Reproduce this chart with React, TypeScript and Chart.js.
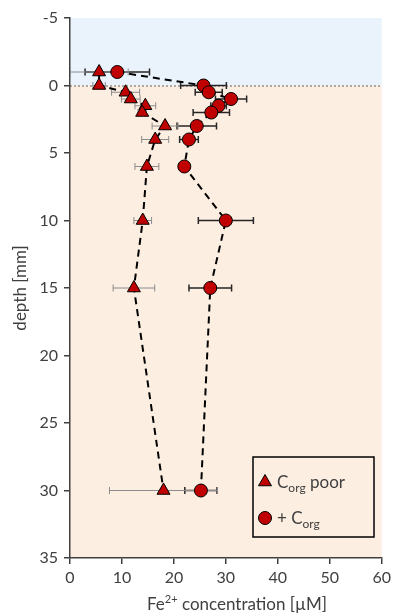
import React, { useEffect, useRef } from "react";
import { Chart, registerables } from "chart.js";

Chart.register(...registerables);

// ---- data ----
const depthPoor = [-1, 0, 0.5, 1, 1.5, 2, 3, 4, 6, 10, 15, 30];
const fePoor = [5.6, 5.6, 10.7, 11.7, 14.5, 13.9, 18.3, 16.4, 14.8, 14.0, 12.3, 18.0];
const errPoor = [5.6, 1.2, 2.7, 1.8, 2.0, 0.8, 2.5, 2.6, 2.3, 1.7, 4.0, 10.4];

const depthCorg = [-1, 0, 0.5, 1, 1.5, 2, 3, 4, 6, 10, 15, 30];
const feCorg = [9.1, 25.7, 26.7, 31.0, 28.6, 27.2, 24.4, 22.9, 22.0, 30.0, 27.0, 25.2];
const errCorg = [6.2, 4.4, 2.6, 3.0, 1.5, 3.5, 3.8, 1.8, 0.4, 5.3, 4.1, 3.1];

const xTicks = [0, 10, 20, 30, 40, 50, 60];
const yTicks = [-5, 0, 5, 10, 15, 20, 25, 30, 35];

const legendItems = [
  { pre: "C", sub: "org", post: " poor", style: "triangle" },
  { pre: "+ C", sub: "org", post: "", style: "circle" },
];
const xTitleParts = { base: "Fe", sup: "2+", rest: " concentration [µM]" };
const yTitle = "depth [mm]";

const FONT = "Lato, 'Open Sans', sans-serif";
const TEXT = "#404040";
const RED = "#c00000";

export default function App() {
  const ref = useRef<HTMLCanvasElement>(null);

  useEffect(() => {
    const canvas = ref.current!;

    const bgPlugin = {
      id: "bg",
      beforeDraw(chart: any) {
        const { ctx, chartArea: a, scales } = chart;
        const y0 = scales.y.getPixelForValue(0);
        ctx.save();
        ctx.fillStyle = "#ffffff";
        ctx.fillRect(0, 0, chart.width, chart.height);
        ctx.fillStyle = "#eaf3fb";
        ctx.fillRect(a.left, a.top, a.right - a.left, y0 - a.top);
        ctx.fillStyle = "#fdeee2";
        ctx.fillRect(a.left, y0, a.right - a.left, a.bottom - y0);
        ctx.setLineDash([2, 2]);
        ctx.strokeStyle = "#606060";
        ctx.lineWidth = 1;
        ctx.beginPath();
        ctx.moveTo(a.left, y0 + 0.5);
        ctx.lineTo(a.right, y0 + 0.5);
        ctx.stroke();
        ctx.restore();
      },
    };

    const errPlugin = {
      id: "errbars",
      beforeDatasetsDraw(chart: any) {
        const { ctx, chartArea: a, scales } = chart;
        const sets = [
          { d: depthCorg, v: feCorg, e: errCorg, c: "#262626", w: 1.5 },
          { d: depthPoor, v: fePoor, e: errPoor, c: "#8c8c8c", w: 1 },
        ];
        ctx.save();
        ctx.beginPath();
        ctx.rect(a.left, a.top, a.right - a.left, a.bottom - a.top);
        ctx.clip();
        sets.forEach((s) => {
          ctx.strokeStyle = s.c;
          ctx.lineWidth = s.w;
          s.d.forEach((dep, i) => {
            const y = scales.y.getPixelForValue(dep);
            const x1 = scales.x.getPixelForValue(s.v[i] - s.e[i]);
            const x2 = scales.x.getPixelForValue(s.v[i] + s.e[i]);
            ctx.beginPath();
            ctx.moveTo(x1, y);
            ctx.lineTo(x2, y);
            ctx.moveTo(x1, y - 3.5);
            ctx.lineTo(x1, y + 3.5);
            ctx.moveTo(x2, y - 3.5);
            ctx.lineTo(x2, y + 3.5);
            ctx.stroke();
          });
        });
        ctx.restore();
      },
    };

    const overlayPlugin = {
      id: "overlay",
      afterDraw(chart: any) {
        const { ctx } = chart;
        ctx.save();
        // legend box
        const bx = 253, by = 457, bw = 121, bh = 80;
        ctx.strokeStyle = "#000";
        ctx.lineWidth = 1.5;
        ctx.strokeRect(bx, by, bw, bh);
        legendItems.forEach((it, i) => {
          const cy = by + 25 + i * 36;
          const cx = bx + 12;
          ctx.fillStyle = RED;
          ctx.strokeStyle = "#000";
          ctx.lineWidth = 1;
          ctx.beginPath();
          if (it.style === "triangle") {
            const r = 7.5;
            ctx.moveTo(cx, cy - r);
            ctx.lineTo(cx + r * 0.866, cy + r * 0.5);
            ctx.lineTo(cx - r * 0.866, cy + r * 0.5);
            ctx.closePath();
          } else {
            ctx.arc(cx, cy, 6.5, 0, Math.PI * 2);
          }
          ctx.fill();
          ctx.stroke();
          ctx.fillStyle = TEXT;
          ctx.textBaseline = "alphabetic";
          ctx.textAlign = "left";
          let tx = bx + 24;
          const base = cy + 6;
          ctx.font = `17px ${FONT}`;
          ctx.fillText(it.pre, tx, base);
          tx += ctx.measureText(it.pre).width;
          ctx.font = `12px ${FONT}`;
          ctx.fillText(it.sub, tx, base + 4);
          tx += ctx.measureText(it.sub).width;
          ctx.font = `17px ${FONT}`;
          ctx.fillText(it.post, tx, base);
        });
        // x title
        ctx.fillStyle = TEXT;
        ctx.font = `17px ${FONT}`;
        const wBase = ctx.measureText(xTitleParts.base).width;
        const wRest = ctx.measureText(xTitleParts.rest).width;
        ctx.font = `11px ${FONT}`;
        const wSup = ctx.measureText(xTitleParts.sup).width;
        const total = wBase + wSup + wRest;
        let x = 237 - total / 2;
        const yb = 610;
        ctx.textAlign = "left";
        ctx.textBaseline = "alphabetic";
        ctx.font = `17px ${FONT}`;
        ctx.fillText(xTitleParts.base, x, yb);
        x += wBase;
        ctx.font = `11px ${FONT}`;
        ctx.fillText(xTitleParts.sup, x, yb - 7);
        x += wSup;
        ctx.font = `17px ${FONT}`;
        ctx.fillText(xTitleParts.rest, x, yb);
        ctx.restore();
      },
    };

    const chart = new Chart(canvas, {
      type: "scatter",
      data: {
        datasets: [
          {
            label: "Corg poor",
            data: fePoor.map((x, i) => ({ x, y: depthPoor[i] })),
            showLine: true,
            borderColor: "#000",
            borderWidth: 2,
            borderDash: [7, 5],
            pointStyle: "triangle",
            pointRadius: 7.5,
            pointBackgroundColor: RED,
            pointBorderColor: "#000",
            pointBorderWidth: 1,
            backgroundColor: RED,
          },
          {
            label: "+ Corg",
            data: feCorg.map((x, i) => ({ x, y: depthCorg[i] })),
            showLine: true,
            borderColor: "#000",
            borderWidth: 2,
            borderDash: [7, 5],
            pointStyle: "circle",
            pointRadius: 6.5,
            pointBackgroundColor: RED,
            pointBorderColor: "#000",
            pointBorderWidth: 1,
            backgroundColor: RED,
          },
        ],
      },
      options: {
        responsive: false,
        animation: false,
        events: [],
        layout: { padding: { top: 18, right: 12, left: 0, bottom: 0 } },
        plugins: { legend: { display: false }, tooltip: { enabled: false } },
        scales: {
          x: {
            type: "linear",
            min: 0,
            max: 60,
            afterBuildTicks: (s: any) => {
              s.ticks = xTicks.map((v) => ({ value: v }));
            },
            afterFit: (s: any) => {
              s.height = 55;
            },
            grid: { drawOnChartArea: false, tickLength: 6, color: TEXT, lineWidth: 1.5 },
            border: { color: TEXT, width: 1.5 },
            ticks: { font: { family: FONT, size: 16 }, color: TEXT, padding: 4, maxRotation: 0, autoSkip: false },
          },
          y: {
            type: "linear",
            reverse: true,
            min: -5,
            max: 35,
            afterBuildTicks: (s: any) => {
              s.ticks = yTicks.map((v) => ({ value: v }));
            },
            afterFit: (s: any) => {
              s.width = 70;
            },
            grid: { drawOnChartArea: false, tickLength: 6, color: TEXT, lineWidth: 1.5 },
            border: { color: TEXT, width: 1.5 },
            ticks: { font: { family: FONT, size: 16 }, color: TEXT, padding: 6, autoSkip: false },
            title: {
              display: true,
              text: yTitle,
              font: { family: FONT, size: 17 },
              color: TEXT,
              padding: { top: 10, bottom: 0 },
            },
          },
        },
      },
      plugins: [bgPlugin, errPlugin, overlayPlugin],
    } as any);

    return () => chart.destroy();
  }, []);

  return (
    <div style={{ position: "absolute", left: 0, top: 0, width: 395, height: 613 }}>
      <canvas ref={ref} width={395} height={613} style={{ display: "block" }} />
    </div>
  );
}
